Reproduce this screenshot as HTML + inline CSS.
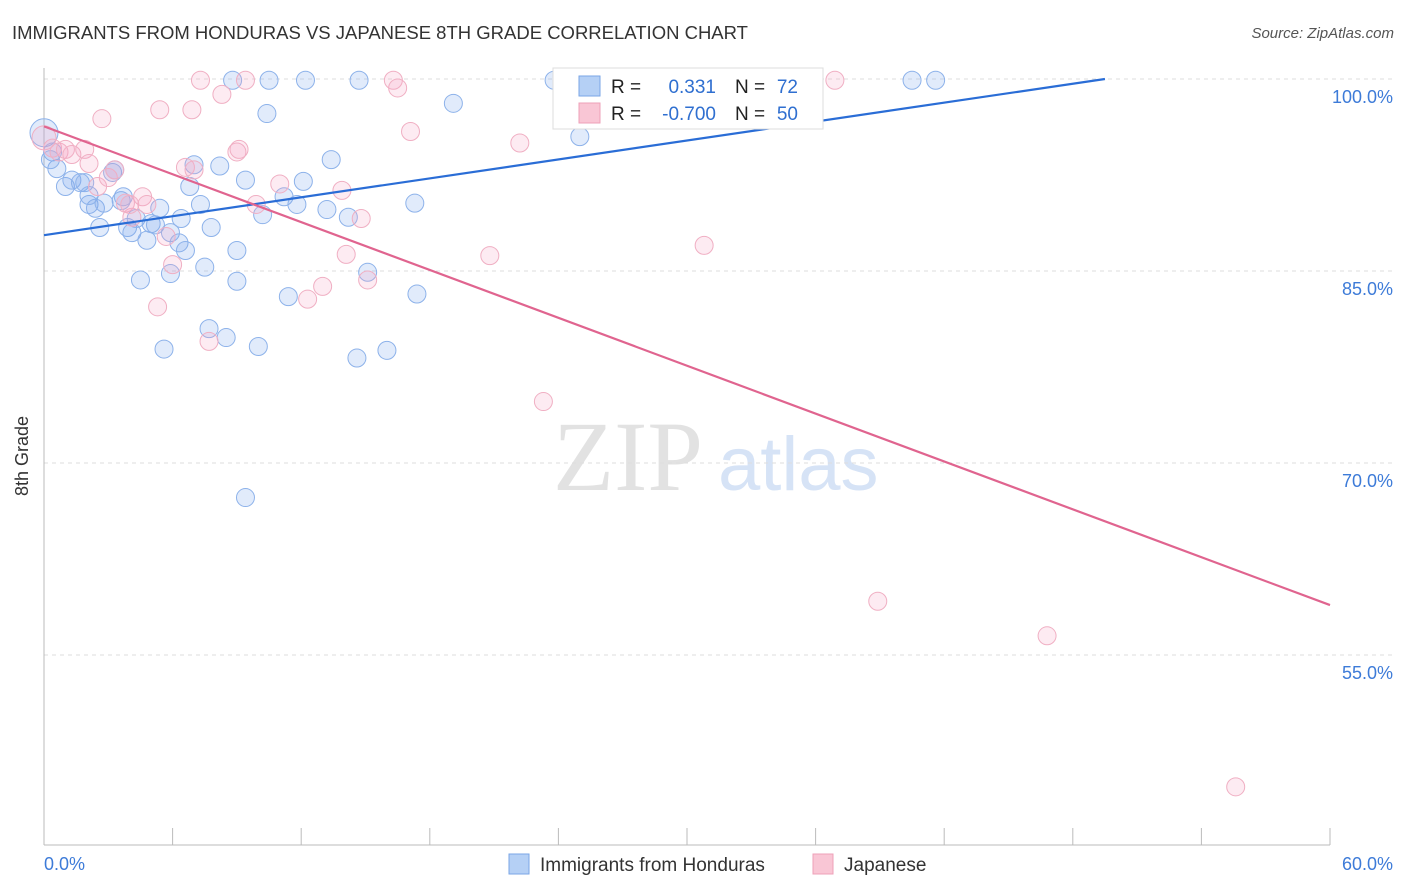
<!DOCTYPE html>
<html><head><meta charset="utf-8">
<style>
body{margin:0;background:#fff;font-family:"Liberation Sans",sans-serif;}
#wrap{position:relative;width:1406px;height:892px;overflow:hidden;}
.t{position:absolute;white-space:nowrap;}
</style></head>
<body>
<div id="wrap">
<div class="t" style="left:12px;top:22px;font-size:18.5px;color:#333;">IMMIGRANTS FROM HONDURAS VS JAPANESE 8TH GRADE CORRELATION CHART</div>
<div class="t" style="right:12px;top:25px;font-size:15px;color:#555;font-style:italic;">Source: ZipAtlas.com</div>
<svg id="svg" width="1406" height="892" style="position:absolute;left:0;top:0">
<text x="553" y="490" font-family="Liberation Serif,serif" font-size="100" fill="#e2e2e2">ZIP</text>
<text x="718" y="490" font-family="Liberation Sans,sans-serif" font-size="76" fill="#d6e3f6">atlas</text>
<g id="grid"></g><g id="axes"></g><g id="pts"></g><g id="lines"></g>
<text x="28" y="456" transform="rotate(-90 28 456)" text-anchor="middle" font-size="18" fill="#333">8th Grade</text>
<text x="44" y="870" font-size="18" fill="#3d7bd8">0.0%</text>
<text x="1393" y="870" text-anchor="end" font-size="18" fill="#3d7bd8">60.0%</text>
<g>
<rect x="553" y="68" width="270" height="61" fill="#fff" stroke="#ddd"/>
<rect x="579" y="76" width="21" height="20" fill="#b5d0f5" stroke="#7aa6e6"/>
<rect x="579" y="103" width="21" height="20" fill="#f9c6d5" stroke="#eea0b8"/>
<text x="611" y="93" font-size="19" fill="#222">R =</text><text x="716" y="93" text-anchor="end" font-size="19" fill="#2f6fd0">0.331</text>
<text x="735" y="93" font-size="19" fill="#222">N =</text><text x="798" y="93" text-anchor="end" font-size="19" fill="#2f6fd0">72</text>
<text x="611" y="120" font-size="19" fill="#222">R =</text><text x="716" y="120" text-anchor="end" font-size="19" fill="#2f6fd0">-0.700</text>
<text x="735" y="120" font-size="19" fill="#222">N =</text><text x="798" y="120" text-anchor="end" font-size="19" fill="#2f6fd0">50</text>
</g>
<g>
<rect x="509" y="854" width="20" height="20" fill="#b5d0f5" stroke="#7aa6e6"/>
<text x="540" y="871" font-size="19" fill="#333">Immigrants from Honduras</text>
<rect x="813" y="854" width="20" height="20" fill="#f9c6d5" stroke="#eea0b8"/>
<text x="844" y="871" font-size="19" fill="#333">Japanese</text>
</g>
</svg>
</div>
<script>
const yTicks=[100,85,70,55];
const yTickLabels=["100.0%","85.0%","70.0%","55.0%"];
const xTicks=[0,6,12,18,24,30,36,42,48,54,60];
const blueX=[0.0,0.4,0.6,1.0,1.3,1.7,1.9,2.1,2.4,2.1,2.6,2.8,3.2,3.3,3.6,3.7,3.9,4.1,4.3,4.5,4.8,5.0,5.2,5.4,5.6,5.9,5.9,6.3,6.4,6.6,6.8,7.0,7.3,7.5,7.7,7.8,8.2,8.5,8.8,9.0,9.0,9.4,9.4,10.0,10.2,10.4,10.5,11.2,11.4,11.8,12.1,12.2,13.2,13.4,14.2,14.6,14.7,15.1,16.0,17.3,17.4,19.1,23.8,24.5,25.0,27.3,28.2,40.5,41.6,0.3];
const blueY=[95.8,94.3,93.0,91.6,92.1,91.9,91.9,90.2,89.9,90.9,88.4,90.3,92.7,92.9,90.5,90.8,88.4,88.0,89.1,84.3,87.4,88.7,88.6,89.9,78.9,84.8,88.0,87.2,89.1,86.6,91.6,93.3,90.2,85.3,80.5,88.4,93.2,79.8,99.9,86.6,84.2,67.3,92.1,79.1,89.4,97.3,99.9,90.8,83.0,90.2,92.0,99.9,89.8,93.7,89.2,78.2,99.9,84.9,78.8,90.3,83.2,98.1,99.9,99.9,95.5,99.9,99.9,99.9,99.9,93.7];
const pinkX=[0.0,0.4,0.7,1.0,1.3,1.9,2.1,2.5,2.7,3.0,3.3,3.8,4.1,4.6,4.8,5.4,5.3,5.7,6.0,6.6,6.9,7.0,7.3,7.7,8.3,9.0,9.1,9.4,9.9,11.0,12.3,13.0,13.9,14.1,14.8,15.1,16.3,16.5,17.1,20.8,22.2,23.3,30.8,36.9,38.9,46.8,55.6,4.0];
const pinkY=[95.4,94.6,94.3,94.5,94.1,94.5,93.4,91.6,96.9,92.3,92.9,90.3,89.2,90.8,90.2,97.6,82.2,87.7,85.5,93.1,97.6,92.9,99.9,79.5,98.8,94.3,94.5,99.9,90.2,91.8,82.8,83.8,91.3,86.3,89.1,84.3,99.9,99.3,95.9,86.2,95.0,74.8,87.0,99.9,59.2,56.5,44.7,90.2];
const blueTrend=[[0,87.8],[49.5,100]];
const pinkTrend=[[0,96.3],[60,58.9]];
const NS="http://www.w3.org/2000/svg";
const sx=v=>44+v*(1286/60);
const sy=v=>79+(100-v)*12.8;
function mk(tag,attrs,parent){const e=document.createElementNS(NS,tag);for(const k in attrs)e.setAttribute(k,attrs[k]);parent.appendChild(e);return e;}
const grid=document.getElementById('grid'),axes=document.getElementById('axes'),pts=document.getElementById('pts'),lines=document.getElementById('lines');
yTicks.forEach((t,i)=>{
 const l=mk('line',{x1:44,x2:1395,y1:sy(t),y2:sy(t),stroke:'#ddd','stroke-dasharray':'4,4'},grid);
 
 
 const tx=mk('text',{x:1393,y:sy(t)+24,'text-anchor':'end','font-size':18,fill:'#3d7bd8'},grid);
 tx.textContent=yTickLabels[i];
 
 
});
const ax=mk('line',{x1:44,x2:44,y1:68,y2:845,stroke:'#bbb'},axes);


const bx=mk('line',{x1:44,x2:1330,y1:845,y2:845,stroke:'#bbb'},axes);


xTicks.forEach(t=>{
 const k=mk('line',{x1:sx(t),x2:sx(t),y1:828,y2:845,stroke:'#bbb'},axes);
 
 
});
blueX.forEach((x,i)=>{
 const c=mk('circle',{cx:sx(x),cy:sy(blueY[i]),r:i===0?14:9,fill:'rgba(120,165,235,0.22)',stroke:'#8db2ea','stroke-width':1},pts);
 
 
});
pinkX.forEach((x,i)=>{
 const c=mk('circle',{cx:sx(x),cy:sy(pinkY[i]),r:i===0?12:9,fill:'rgba(245,165,195,0.22)',stroke:'#f0afc3','stroke-width':1},pts);
 
 
});
const bl=mk('line',{x1:sx(blueTrend[0][0]),y1:sy(blueTrend[0][1]),x2:sx(blueTrend[1][0]),y2:sy(blueTrend[1][1]),stroke:'#2a6dd6','stroke-width':2.2},lines);


const pl=mk('line',{x1:sx(pinkTrend[0][0]),y1:sy(pinkTrend[0][1]),x2:sx(pinkTrend[1][0]),y2:sy(pinkTrend[1][1]),stroke:'#e0648f','stroke-width':2.2},lines);


</script>
</body></html>
